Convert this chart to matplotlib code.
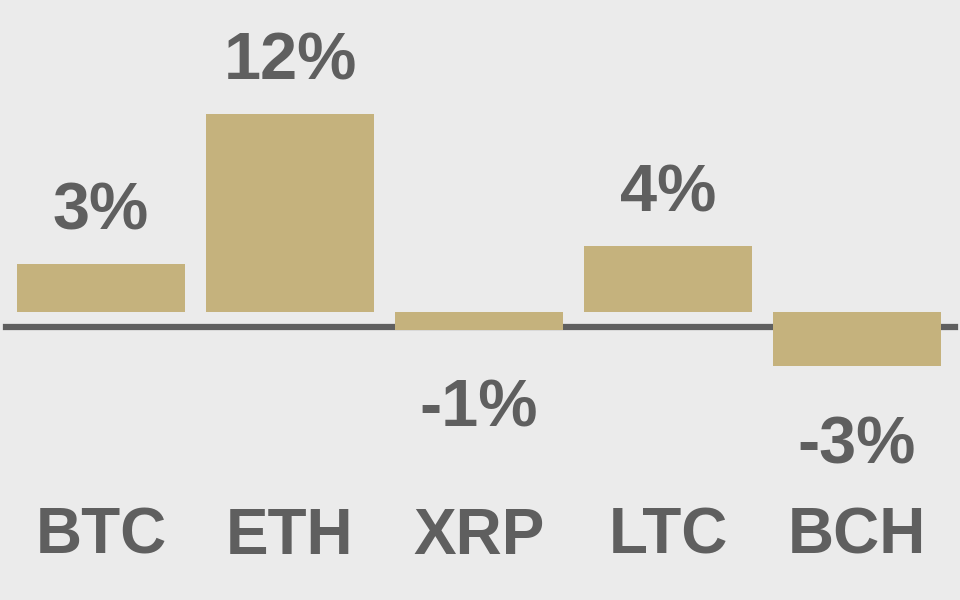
import matplotlib.pyplot as plt

coins = ['BTC', 'ETH', 'XRP', 'LTC', 'BCH']
change = [2.9, 12.0, -1.1, 4.0, -3.3]

bg = '#ebebeb'
bar_color = '#c5b27d'
text_color = '#5f5f5f'

fig = plt.figure(figsize=(9.6, 6), dpi=100, facecolor=bg)
ax = fig.add_axes([0, 0, 1, 1], facecolor=bg)

x = list(range(len(coins)))
# baseline drawn slightly below zero, behind the bars
ax.axhline(-0.9, xmin=0.006, xmax=0.995, color=text_color, linewidth=4.5, zorder=1)
ax.bar(x, change, width=0.89, color=bar_color, zorder=2)

ax.set_xlim(-0.534, 4.545)
ax.set_ylim(-17.45, 18.9)

for xi, v in zip(x, change):
    if v >= 0:
        ax.annotate(f'{v:.0f}%', (xi, v), xytext=(0, 15), textcoords='offset points',
                    ha='center', va='bottom', fontsize=48, fontweight='bold',
                    color=text_color, family='Liberation Sans')
    else:
        ax.annotate(f'{v:.0f}%', (xi, v), xytext=(0, -35), textcoords='offset points',
                    ha='center', va='top', fontsize=48, fontweight='bold',
                    color=text_color, family='Liberation Sans')

# category names along the bottom
for xi, name in zip(x, coins):
    ax.text(xi, 0.105, name, transform=ax.get_xaxis_transform(),
            ha='center', va='center', fontsize=46, fontweight='bold',
            color=text_color, family='Liberation Sans')

ax.axis('off')
fig.savefig('out.png', dpi=100, facecolor=bg)
